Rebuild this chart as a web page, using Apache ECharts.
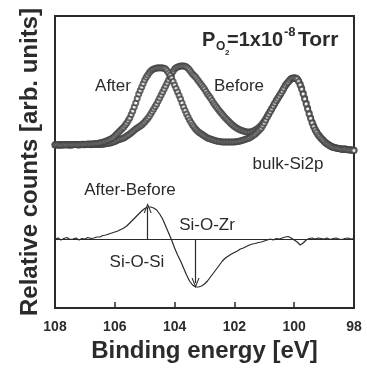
<!DOCTYPE html>
<html>
<head>
<meta charset="utf-8">
<script src="https://cdn.jsdelivr.net/npm/echarts@6/dist/echarts.min.js"></script>
<style>
html, body { margin: 0; padding: 0; background: #fff; }
#xps { width: 367px; height: 368px; }
</style>
</head>
<body>
<div id="xps"></div>
<script>
// binding energy grids start at 108 eV and go down
const E_START = 108;
const SPEC_STEP = 0.05;
const DIFF_STEP = 0.1;

// Si2p spectra (height above their own baseline, arb. units), 0.05 eV step
const afterCounts = [
  0, 0.3, 0.5, 0.1, -0.3, 0, 0.4, 0.2, 0, 0.4,
  0.6, 0.3, 0.2, 0.4, 0.5, 0.2, 0.3, 0.6, 0.8, 0.7,
  0.6, 0.8, 0.9, 1.1, 1.0, 1.0, 1.2, 1.4, 1.5, 1.7,
  2, 2.4, 2.8, 3.3, 3.8, 4.4, 5, 5.7, 6.5, 7.6,
  9, 10.5, 12, 13.5, 15, 16.5, 18, 20, 22, 24.5,
  27, 30.5, 34, 38, 42, 46.5, 51, 54.5, 58, 61.5,
  65, 67.7, 70, 72.2, 74, 75.2, 76, 76.6, 77, 77.2,
  77, 77.3, 77, 76.7, 76, 74.3, 72, 69.8, 67, 63.6,
  60, 56.5, 53, 49.6, 46, 42, 38, 34.4, 31, 27.9,
  25, 22.4, 20, 17.9, 16, 14.4, 13, 11.9, 11, 10,
  9, 7.9, 7, 6.4, 6, 5.5, 5, 4.4, 4, 3.8,
  3.5, 3.2, 3, 3.1, 3, 2.9, 3, 3, 3, 3.1,
  3, 3.2, 3.5, 3.7, 4, 4.5, 5, 5.5, 6, 6.4,
  7, 8, 9, 10, 11, 12.4, 14, 15.4, 17, 19.4,
  22, 25, 28, 30.7, 33.5, 36.2, 39, 41.8, 44.5, 46.7,
  49, 51.5, 54, 56.8, 59.5, 61.4, 63, 65, 66.5, 67,
  67, 66.8, 66, 63.4, 60, 55.8, 51, 46, 41, 36,
  31, 26.4, 22, 18.3, 15, 12.4, 10, 8.2, 6.5, 4.9,
  3.5, 2.1, 1, 0, -1, -1.8, -2.5, -2.7, -3, -3.3,
  -3.5, -4, -4.5, -4.2, -4, -4.6, -5, -4.8, -5, -5.3,
  -5.5
];
const beforeCounts = [
  0.3, 0.1, -0.2, 0.1, 0.4, 0.2, 0, 0.3, 0.5, 0.1,
  -0.3, 0, 0.2, 0.4, 0.6, 0.3, 0, 0.2, 0.4, 0.3,
  0.2, 0.4, 0.5, 0.4, 0.3, 0.5, 0.6, 0.5, 0.4, 0.4,
  0.5, 0.6, 0.8, 1.0, 1.2, 1.5, 1.8, 2.1, 2.5, 3,
  3.5, 4.2, 5, 5.5, 6, 6.5, 7, 8, 9, 10,
  11, 12.2, 13.5, 14.8, 16, 17, 18, 19, 20, 21.4,
  23, 24.7, 26.5, 28.6, 31, 33.5, 36, 38.5, 41, 44,
  47, 50, 53, 56, 59, 62, 65, 68, 71, 73.7,
  76, 77.2, 78, 78.6, 79, 79.1, 79, 78.7, 78, 76.7,
  75, 73, 71, 69.6, 68, 66, 64, 62, 60, 58,
  56, 53.5, 51, 49, 47, 44.5, 42, 40, 38, 36,
  34, 32.2, 30.5, 28.7, 27, 25.5, 24, 22.5, 21, 19.7,
  18.5, 17.4, 16.5, 15.7, 15, 14.4, 14, 13.5, 13, 12.9,
  13, 13.1, 13.5, 14.2, 15, 15.9, 17, 18.4, 20, 21.9,
  24, 26.5, 29, 31.5, 34, 36.5, 39, 41.5, 44, 46.5,
  49, 51.5, 54, 56.5, 59, 61.2, 63, 64.7, 66, 66.8,
  67, 66.9, 66, 64, 61, 57, 52, 47, 42, 37,
  32, 27.3, 23, 19.3, 16, 13.3, 11, 8.9, 7, 5.4,
  4, 2.6, 1.5, 0.5, -0.5, -1.3, -2, -2.5, -3, -3.3,
  -3.5, -3.8, -4, -4.1, -4, -4.3, -4.5, -4.8, -5, -4.9,
  -5
];
// After - Before difference spectrum, 0.1 eV step
const diffCounts = [
  0, 1, -1, 0.5, 1.5, -0.5, 0, 1, -1, 0.5, 0, 1.5, 0.5, 1, 2,
  2, 3.5, 4, 5, 6, 7, 8, 9.5, 11, 13, 16, 19, 22, 25, 28,
  30.5, 32, 32, 31, 29, 25, 20, 13, 6, -1, -9, -16, -22, -29, -36,
  -42, -46, -48, -48, -47, -45, -42, -38, -34, -30, -26, -22, -19, -17, -15,
  -13.5, -12, -10, -9, -7.5, -6, -5, -4.5, -3.5, -3,
  -2, -1, 0, -1, 0.5, 0, 1, 2, 2.5, 1, -1, -3, -6, -4, -1,
  0.5, 1, 0, 1, 0.5, 0, 1, -0.5, 0.5, 1, 0, -0.5, 0.5, 1, 0, 0.5
];
// arrows: [energy, tip value on the difference curve]
const arrowSiOSi = [104.9, 31];
const arrowSiOZr = [103.3, -44];
const xTicks = [108, 106, 104, 102, 100, 98];

// vertical offsets of the stacked curves
const SPEC_BASE = 163;
const DIFF_BASE = 69;

const FONT = "'Liberation Sans', Arial, sans-serif";
const INK = '#2b2b2b';
const ARROW = 'path://M0,10 L5,0 L10,10 L8.6,10 L5,2.8 L1.4,10 Z';

function pairs(vals, step, base) {
  return vals.map((v, i) => [+(E_START - i * step).toFixed(3), v + base]);
}

const chart = echarts.init(document.getElementById('xps'));

const option = {
  backgroundColor: '#fff',
  animation: false,
  grid: {
    left: 55, right: 13, top: 16, bottom: 60,
    show: true, borderColor: INK, borderWidth: 2
  },
  xAxis: {
    type: 'value',
    min: 98, max: 108, interval: 2,
    inverse: true,
    name: 'Binding energy [eV]',
    nameLocation: 'middle',
    nameGap: 31,
    nameTextStyle: { fontFamily: FONT, fontWeight: 'bold', fontSize: 24, color: INK },
    axisLine: { show: true, lineStyle: { color: INK, width: 2 } },
    axisTick: { show: true, inside: true, length: 6, lineStyle: { color: INK, width: 1.5 } },
    axisLabel: {
      fontFamily: FONT, fontWeight: 'bold', fontSize: 14, color: INK, margin: 12,
      formatter: v => xTicks.includes(v) ? String(v) : ''
    },
    splitLine: { show: false }
  },
  yAxis: {
    type: 'value',
    min: 0, max: 292,
    name: 'Relative counts [arb. units]',
    nameLocation: 'middle',
    nameGap: 13,
    nameTextStyle: { fontFamily: FONT, fontWeight: 'bold', fontSize: 24, color: INK },
    axisLine: { show: false },
    axisTick: { show: false },
    axisLabel: { show: false },
    splitLine: { show: false }
  },
  series: [
    {
      name: 'Before',
      type: 'scatter',
      data: pairs(beforeCounts, SPEC_STEP, SPEC_BASE),
      symbol: 'emptyCircle',
      symbolSize: 5,
      itemStyle: { color: '#444', borderWidth: 1 }
    },
    {
      name: 'After',
      type: 'scatter',
      data: pairs(afterCounts, SPEC_STEP, SPEC_BASE),
      symbol: 'emptyCircle',
      symbolSize: 5,
      itemStyle: { color: '#444', borderWidth: 1 }
    },
    {
      name: 'After-Before',
      type: 'line',
      data: pairs(diffCounts, DIFF_STEP, DIFF_BASE),
      showSymbol: false,
      lineStyle: { color: INK, width: 1.2 },
      markLine: {
        silent: true,
        symbol: ['none', 'none'],
        label: { show: false },
        lineStyle: { color: INK, width: 1.2, type: 'solid' },
        data: [
          { yAxis: DIFF_BASE },
          [
            { coord: [arrowSiOSi[0], DIFF_BASE], symbol: 'none' },
            { coord: [arrowSiOSi[0], DIFF_BASE + arrowSiOSi[1]], symbol: ARROW, symbolSize: [8, 10] }
          ],
          [
            { coord: [arrowSiOZr[0], DIFF_BASE], symbol: 'none' },
            { coord: [arrowSiOZr[0], DIFF_BASE + arrowSiOZr[1]], symbol: ARROW, symbolSize: [8, 10] }
          ]
        ]
      }
    }
  ],
  graphic: [
    // P_O2 = 1x10^-8 Torr
    { type: 'text', x: 202, y: 40, style: { text: 'P', font: 'bold 20px ' + FONT, fill: INK, textVerticalAlign: 'middle' } },
    { type: 'text', x: 216, y: 47, style: { text: 'O', font: 'bold 12px ' + FONT, fill: INK, textVerticalAlign: 'middle' } },
    { type: 'text', x: 225, y: 53, style: { text: '2', font: 'bold 8px ' + FONT, fill: INK, textVerticalAlign: 'middle' } },
    { type: 'text', x: 227, y: 40, style: { text: '=1x10', font: 'bold 20px ' + FONT, fill: INK, textVerticalAlign: 'middle' } },
    { type: 'text', x: 284, y: 32, style: { text: '-8', font: 'bold 13px ' + FONT, fill: INK, textVerticalAlign: 'middle' } },
    { type: 'text', x: 298, y: 40, style: { text: 'Torr', font: 'bold 21px ' + FONT, fill: INK, textVerticalAlign: 'middle' } },
    // curve labels
    { type: 'text', x: 113, y: 86, style: { text: 'After', font: '17px ' + FONT, fill: INK, textAlign: 'center', textVerticalAlign: 'middle' } },
    { type: 'text', x: 239, y: 86, style: { text: 'Before', font: '17px ' + FONT, fill: INK, textAlign: 'center', textVerticalAlign: 'middle' } },
    { type: 'text', x: 288, y: 164, style: { text: 'bulk-Si2p', font: '17px ' + FONT, fill: INK, textAlign: 'center', textVerticalAlign: 'middle' } },
    { type: 'text', x: 130, y: 190, style: { text: 'After-Before', font: '17px ' + FONT, fill: INK, textAlign: 'center', textVerticalAlign: 'middle' } },
    { type: 'text', x: 207, y: 225, style: { text: 'Si-O-Zr', font: '17px ' + FONT, fill: INK, textAlign: 'center', textVerticalAlign: 'middle' } },
    { type: 'text', x: 137, y: 262, style: { text: 'Si-O-Si', font: '17px ' + FONT, fill: INK, textAlign: 'center', textVerticalAlign: 'middle' } }
  ]
};

chart.setOption(option);
window.addEventListener('resize', () => chart.resize());
</script>
</body>
</html>
